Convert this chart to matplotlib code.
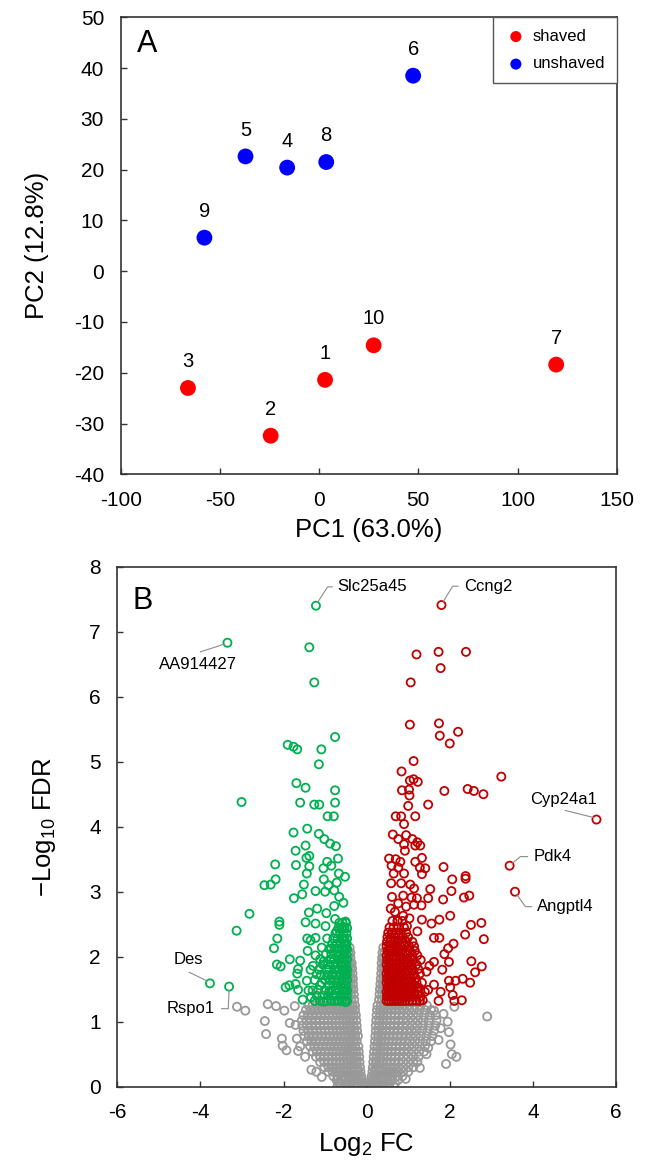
import matplotlib
matplotlib.use("Agg")
import matplotlib.pyplot as plt

plt.rcParams['font.family'] = ['Liberation Sans', 'DejaVu Sans']
plt.rcParams['axes.unicode_minus'] = False

# ---------------- Panel A data (PCA) ----------------
sample_ids = ['1', '2', '3', '4', '5', '6', '7', '8', '9', '10']
pc1 = [3.0, -24.4, -66.1, -16.1, -37.1, 47.4, 119.5, 3.6, -57.8, 27.5]
pc2 = [-21.4, -32.4, -23.0, 20.4, 22.6, 38.5, -18.4, 21.5, 6.6, -14.6]
groups = ['shaved', 'shaved', 'shaved', 'unshaved', 'unshaved', 'unshaved',
          'shaved', 'unshaved', 'unshaved', 'shaved']
group_order = ['shaved', 'unshaved']

# ---------------- Panel B data (volcano) ----------------
# significant down-regulated genes (log2FC, -log10 FDR)
green_pts = [(-1.22, 7.40), (-3.35, 6.83), (-1.38, 6.76), (-1.26, 6.22), (-0.76, 5.38),
             (-1.90, 5.26), (-1.76, 5.23), (-1.67, 5.19), (-1.09, 5.19), (-1.15, 4.96),
             (-1.69, 4.67), (-1.47, 4.60), (-0.76, 4.56), (-3.01, 4.38), (-1.60, 4.37),
             (-1.26, 4.34), (-1.14, 4.34), (-0.76, 4.37), (-0.94, 4.16), (-0.79, 4.16),
             (-1.43, 3.97), (-1.76, 3.91), (-1.15, 3.89), (-1.02, 3.81), (-0.88, 3.74),
             (-0.74, 3.70), (-1.47, 3.71), (-1.71, 3.63), (-1.38, 3.55), (-1.45, 3.52),
             (-0.69, 3.51), (-2.20, 3.42), (-1.70, 3.41), (-1.38, 3.39), (-0.95, 3.46),
             (-0.85, 3.40), (-1.04, 3.36), (-1.44, 3.28), (-0.67, 3.28), (-0.52, 3.23),
             (-2.19, 3.19), (-2.46, 3.10), (-2.31, 3.11), (-1.51, 3.11), (-1.03, 3.19),
             (-0.92, 3.10), (-0.72, 3.14), (-1.23, 3.01), (-1.00, 3.00), (-0.78, 3.02),
             (-1.55, 2.96), (-1.75, 2.90), (-0.66, 2.92), (-0.56, 2.83), (-0.78, 2.78),
             (-1.19, 2.74), (-1.39, 2.68), (-0.97, 2.67), (-2.82, 2.66), (-0.76, 2.58),
             (-2.10, 2.54), (-2.10, 2.49), (-1.47, 2.53), (-1.23, 2.51), (-0.99, 2.47),
             (-0.51, 2.54), (-0.57, 2.46), (-3.13, 2.40), (-0.72, 2.39), (-1.43, 2.28),
             (-2.15, 2.28), (-0.95, 2.28), (-1.23, 2.29), (-1.35, 2.25), (-0.57, 2.27),
             (-1.42, 2.09), (-2.23, 2.13), (-1.08, 2.14), (-0.85, 2.13), (-0.51, 2.17),
             (-1.85, 1.96), (-1.60, 1.94), (-1.23, 2.02), (-1.03, 1.93), (-0.69, 2.01),
             (-2.16, 1.88), (-2.07, 1.85), (-1.65, 1.81), (-1.29, 1.86), (-0.97, 1.80),
             (-0.58, 1.86), (-1.67, 1.74), (-1.20, 1.73), (-0.81, 1.73), (-0.49, 1.74),
             (-3.77, 1.59), (-3.31, 1.54), (-1.95, 1.53), (-1.86, 1.56), (-1.71, 1.58),
             (-1.44, 1.63), (-1.08, 1.60), (-0.72, 1.60), (-1.65, 1.49), (-1.40, 1.48),
             (-1.17, 1.49), (-0.90, 1.46), (-0.54, 1.52), (-1.54, 1.34), (-1.34, 1.38),
             (-1.03, 1.31), (-0.70, 1.33), (-0.51, 1.30)]

green_dense_levels = [1.32, 1.40, 1.48, 1.56, 1.64, 1.72, 1.80, 1.88, 1.96, 2.04,
                      2.12, 2.20, 2.28, 2.36, 2.44, 2.52]
green_dense_x = [
    [-0.47, -0.53, -0.60, -0.68, -0.77, -0.86, -0.96, -1.12, -1.25],
    [-0.48, -0.55, -0.63, -0.72, -0.81, -0.93, -1.06, -1.20],
    [-0.47, -0.52, -0.58, -0.66, -0.75, -0.85, -1.00, -1.30],
    [-0.49, -0.56, -0.62, -0.70, -0.80, -0.92, -1.12],
    [-0.47, -0.53, -0.60, -0.67, -0.77, -0.88, -1.00, -1.25],
    [-0.48, -0.55, -0.63, -0.72, -0.84, -0.95, -1.10],
    [-0.47, -0.52, -0.58, -0.66, -0.75, -0.90, -1.15, -1.35],
    [-0.49, -0.55, -0.62, -0.70, -0.80, -0.93, -1.05],
    [-0.47, -0.53, -0.60, -0.68, -0.78, -0.88, -1.12],
    [-0.48, -0.55, -0.63, -0.73, -0.85, -0.98],
    [-0.47, -0.52, -0.59, -0.67, -0.77, -0.90],
    [-0.48, -0.55, -0.62, -0.72, -0.83],
    [-0.47, -0.53, -0.60, -0.70, -0.80],
    [-0.49, -0.56, -0.64, -0.75],
    [-0.47, -0.53, -0.60, -0.68],
    [-0.50, -0.58, -0.66]]

# significant up-regulated genes
red_pts = [(1.80, 7.41), (1.20, 6.65), (1.73, 6.69), (2.39, 6.69), (1.78, 6.44),
           (1.06, 6.22), (1.04, 5.57), (1.74, 5.59), (1.76, 5.40), (2.20, 5.46),
           (2.00, 5.28), (1.13, 5.01), (3.24, 4.77), (0.84, 4.85), (1.04, 4.71),
           (1.13, 4.73), (1.23, 4.69), (0.85, 4.56), (1.02, 4.57), (1.87, 4.55),
           (2.43, 4.58), (2.58, 4.55), (2.81, 4.50), (1.03, 4.48), (1.48, 4.34),
           (1.00, 4.32), (0.70, 4.16), (0.83, 4.16), (1.17, 4.16), (0.90, 4.04),
           (5.53, 4.11), (3.44, 3.40), (3.57, 3.00),
           (0.63, 3.88), (0.76, 3.81), (0.95, 3.87), (1.10, 3.81), (1.22, 3.76),
           (1.29, 3.71), (0.90, 3.73), (0.92, 3.63), (1.17, 3.71), (0.54, 3.51),
           (0.70, 3.50), (0.81, 3.46), (1.33, 3.52), (0.60, 3.40), (0.76, 3.37),
           (1.17, 3.46), (1.28, 3.37), (1.41, 3.36), (1.85, 3.38), (0.65, 3.28),
           (0.90, 3.28), (1.33, 3.27), (2.38, 3.24), (2.38, 3.20), (2.06, 3.19),
           (0.59, 3.13), (0.83, 3.13), (1.05, 3.11), (1.53, 3.04), (1.14, 3.05),
           (2.04, 3.01), (0.61, 2.92), (0.88, 2.94), (1.08, 2.91), (1.21, 2.90),
           (1.48, 2.90), (2.34, 2.91), (2.47, 2.94), (1.84, 2.88), (0.58, 2.74),
           (0.76, 2.82), (0.95, 2.77), (1.14, 2.80), (1.32, 2.79), (0.68, 2.69),
           (0.88, 2.63), (1.03, 2.59), (2.01, 2.63), (1.75, 2.57), (1.33, 2.57),
           (1.56, 2.51), (0.75, 2.55), (2.51, 2.49), (2.76, 2.52), (0.97, 2.47),
           (1.22, 2.39), (2.37, 2.34), (2.82, 2.27), (1.62, 2.29), (1.75, 2.29),
           (2.09, 2.20), (1.96, 2.13), (1.87, 2.04), (1.98, 1.92), (2.52, 1.93),
           (2.77, 1.85), (2.61, 1.76), (1.82, 1.80), (1.62, 1.92), (1.51, 1.86),
           (1.44, 1.77), (1.98, 1.63), (2.14, 1.63), (2.31, 1.66), (2.49, 1.60),
           (2.01, 1.53), (1.62, 1.57), (1.78, 1.46), (2.07, 1.41), (2.11, 1.32),
           (2.29, 1.33), (1.73, 1.32), (1.35, 1.33), (1.48, 1.49), (1.26, 1.52)]

red_dense_levels = [1.32, 1.39, 1.46, 1.53, 1.60, 1.67, 1.74, 1.81, 1.88, 1.95,
                    2.02, 2.09, 2.16, 2.23, 2.30, 2.37, 2.45, 2.55]
red_dense_x = [
    [0.48, 0.53, 0.59, 0.65, 0.72, 0.79, 0.86, 0.94, 1.02, 1.10, 1.20, 1.28],
    [0.49, 0.55, 0.61, 0.68, 0.75, 0.82, 0.90, 0.98, 1.07, 1.17, 1.30],
    [0.48, 0.53, 0.59, 0.66, 0.73, 0.80, 0.88, 0.96, 1.05, 1.15, 1.25, 1.40],
    [0.50, 0.56, 0.62, 0.69, 0.77, 0.85, 0.93, 1.02, 1.12, 1.22],
    [0.48, 0.54, 0.60, 0.67, 0.74, 0.82, 0.90, 0.99, 1.09, 1.20, 1.33],
    [0.49, 0.56, 0.63, 0.71, 0.79, 0.87, 0.96, 1.06, 1.18],
    [0.48, 0.54, 0.60, 0.68, 0.76, 0.84, 0.93, 1.03, 1.14, 1.28],
    [0.50, 0.57, 0.64, 0.72, 0.80, 0.89, 0.99, 1.10, 1.24],
    [0.48, 0.55, 0.62, 0.70, 0.78, 0.87, 0.97, 1.08, 1.20],
    [0.49, 0.56, 0.63, 0.71, 0.80, 0.90, 1.00, 1.12, 1.30],
    [0.48, 0.55, 0.62, 0.70, 0.79, 0.88, 0.98, 1.10, 1.22],
    [0.50, 0.57, 0.65, 0.74, 0.83, 0.93, 1.04, 1.16],
    [0.48, 0.55, 0.63, 0.72, 0.81, 0.91, 1.02, 1.14],
    [0.49, 0.57, 0.66, 0.75, 0.85, 0.96, 1.10],
    [0.50, 0.58, 0.67, 0.77, 0.88, 1.00],
    [0.52, 0.61, 0.71, 0.82, 0.95],
    [0.55, 0.65, 0.76, 0.90],
    [0.62, 0.74, 0.86]]

# non-significant genes: dense cloud rows (-log10 FDR level, log2FC values)
gray_levels = [0.01, 0.05, 0.10, 0.16, 0.23, 0.30, 0.38, 0.46, 0.54, 0.62, 0.70,
               0.78, 0.86, 0.94, 1.02, 1.10, 1.18, 1.25,
               1.34, 1.42, 1.50, 1.58, 1.66, 1.74, 1.82, 1.90, 1.98, 2.06, 2.14]
gray_x = [
    [-0.70, -0.55, -0.42, -0.30, -0.20, -0.10, -0.03, 0.00, 0.04, 0.10, 0.18, 0.28, 0.40, 0.52, 0.65],
    [-0.62, -0.50, -0.38, -0.28, -0.19, -0.12, -0.06, 0.06, 0.12, 0.20, 0.30, 0.42, 0.55, 0.68],
    [-0.72, -0.60, -0.50, -0.41, -0.33, -0.25, -0.18, -0.11, 0.10, 0.17, 0.24, 0.32, 0.41, 0.50, 0.61, 0.75],
    [-0.80, -0.70, -0.60, -0.51, -0.43, -0.35, -0.27, -0.20, -0.13, 0.12, 0.19, 0.26, 0.34, 0.43, 0.52, 0.62, 0.73, 0.86],
    [-0.92, -0.82, -0.72, -0.63, -0.54, -0.46, -0.38, -0.30, -0.22, -0.15, 0.14, 0.21, 0.29, 0.37, 0.46, 0.55, 0.65, 0.76, 0.88, 1.00],
    [-1.02, -0.92, -0.82, -0.73, -0.64, -0.55, -0.47, -0.39, -0.31, -0.23, -0.16, 0.15, 0.22, 0.30, 0.38, 0.47, 0.56, 0.66, 0.77, 0.88, 1.00, 1.12],
    [-1.12, -1.02, -0.92, -0.82, -0.73, -0.64, -0.55, -0.47, -0.39, -0.31, -0.24, -0.17, 0.16, 0.23, 0.31, 0.39, 0.48, 0.57, 0.67, 0.77, 0.88, 1.00, 1.12, 1.22],
    [-1.22, -1.12, -1.02, -0.92, -0.83, -0.74, -0.65, -0.56, -0.48, -0.40, -0.32, -0.25, -0.18, 0.17, 0.24, 0.32, 0.40, 0.49, 0.58, 0.68, 0.78, 0.89, 1.00, 1.12, 1.25],
    [-1.30, -1.20, -1.10, -1.00, -0.91, -0.82, -0.73, -0.64, -0.56, -0.48, -0.40, -0.33, -0.26, -0.19, 0.18, 0.25, 0.33, 0.41, 0.50, 0.59, 0.69, 0.79, 0.90, 1.01, 1.13, 1.26, 1.38],
    [-1.36, -1.26, -1.16, -1.06, -0.96, -0.87, -0.78, -0.69, -0.60, -0.52, -0.44, -0.36, -0.28, -0.20, 0.19, 0.26, 0.34, 0.42, 0.51, 0.60, 0.70, 0.80, 0.91, 1.02, 1.14, 1.27, 1.40],
    [-1.44, -1.33, -1.22, -1.12, -1.02, -0.92, -0.83, -0.74, -0.65, -0.56, -0.48, -0.40, -0.32, -0.24, 0.20, 0.27, 0.35, 0.44, 0.53, 0.62, 0.72, 0.82, 0.93, 1.04, 1.16, 1.28, 1.42, 1.55],
    [-1.50, -1.39, -1.28, -1.18, -1.08, -0.98, -0.88, -0.79, -0.70, -0.61, -0.52, -0.44, -0.36, -0.28, -0.21, 0.21, 0.28, 0.36, 0.45, 0.54, 0.64, 0.74, 0.84, 0.95, 1.06, 1.18, 1.30, 1.44, 1.58],
    [-1.52, -1.41, -1.30, -1.20, -1.10, -1.00, -0.90, -0.81, -0.72, -0.63, -0.54, -0.46, -0.38, -0.30, -0.23, 0.22, 0.29, 0.37, 0.46, 0.55, 0.65, 0.75, 0.86, 0.97, 1.08, 1.20, 1.33, 1.47, 1.62],
    [-1.55, -1.44, -1.33, -1.22, -1.12, -1.02, -0.92, -0.83, -0.74, -0.65, -0.56, -0.48, -0.40, -0.32, -0.24, 0.22, 0.30, 0.38, 0.47, 0.56, 0.66, 0.76, 0.87, 0.98, 1.10, 1.22, 1.35, 1.50, 1.65],
    [-1.56, -1.45, -1.34, -1.23, -1.13, -1.03, -0.93, -0.84, -0.75, -0.66, -0.57, -0.49, -0.41, -0.33, -0.25, 0.23, 0.31, 0.39, 0.48, 0.57, 0.67, 0.77, 0.88, 0.99, 1.11, 1.23, 1.36, 1.50, 1.68],
    [-1.52, -1.41, -1.30, -1.20, -1.10, -1.00, -0.90, -0.81, -0.72, -0.63, -0.55, -0.47, -0.39, -0.32, -0.26, 0.24, 0.32, 0.40, 0.49, 0.58, 0.68, 0.78, 0.89, 1.00, 1.12, 1.24, 1.38, 1.52, 1.66],
    [-1.46, -1.35, -1.25, -1.15, -1.05, -0.95, -0.86, -0.77, -0.68, -0.60, -0.52, -0.44, -0.36, -0.28, 0.25, 0.33, 0.41, 0.50, 0.59, 0.69, 0.79, 0.90, 1.02, 1.14, 1.27, 1.40, 1.55],
    [-1.40, -1.30, -1.20, -1.10, -1.00, -0.91, -0.82, -0.73, -0.65, -0.57, -0.49, -0.41, -0.34, -0.28, 0.26, 0.34, 0.42, 0.51, 0.60, 0.70, 0.80, 0.91, 1.03, 1.16, 1.30, 1.45],
    [-0.44, -0.37, -0.30, 0.30, 0.37, 0.44],
    [-0.45, -0.38, -0.31, 0.31, 0.38, 0.45],
    [-0.44, -0.37, -0.32, 0.32, 0.38, 0.44],
    [-0.45, -0.39, -0.33, 0.33, 0.39, 0.45],
    [-0.44, -0.38, -0.33, 0.34, 0.40, 0.45],
    [-0.45, -0.40, -0.34, 0.35, 0.41, 0.46],
    [-0.44, -0.39, -0.35, 0.36, 0.41, 0.45],
    [-0.45, -0.40, -0.36, 0.36, 0.42, 0.46],
    [-0.44, -0.39, 0.37, 0.42],
    [-0.43, -0.39, 0.38, 0.43],
    [-0.41, 0.40]]

# non-significant outliers
gray_pts = [(-3.12, 1.23), (-2.92, 1.17), (-2.38, 1.27), (-2.45, 1.01), (-2.42, 0.81),
            (-2.18, 1.24), (-1.98, 1.17), (-2.04, 0.74), (-2.02, 0.63), (-1.93, 0.56),
            (-1.73, 1.24), (-1.68, 0.74), (-1.65, 0.55), (-1.71, 0.95), (-1.48, 0.46),
            (-1.33, 0.26), (-1.21, 0.23), (-1.08, 0.15), (-0.67, 0.06), (-0.47, 0.05),
            (-0.24, 0.02), (-1.85, 0.98), (-1.60, 0.62),
            (2.90, 1.08), (2.11, 1.23), (1.95, 1.00), (1.98, 0.84), (2.02, 0.65),
            (2.05, 0.50), (1.91, 0.35), (1.62, 1.17), (1.73, 0.72), (1.48, 0.60),
            (1.44, 0.50), (1.28, 0.29), (0.94, 0.12), (0.54, 0.05), (0.36, 0.03),
            (2.16, 0.46), (1.85, 1.12), (1.78, 0.90)]

# labelled genes: name, text position, alignment, leader line (x list, y list)
gene_names = ['Slc25a45', 'Ccng2', 'AA914427', 'Cyp24a1', 'Pdk4', 'Angptl4', 'Des', 'Rspo1']
gene_text_xy = [(-0.70, 7.69), (2.34, 7.69), (-4.05, 6.49), (4.75, 4.42),
                (4.02, 3.54), (4.11, 2.77), (-4.30, 1.96), (-3.66, 1.20)]
gene_text_ha = ['left', 'left', 'center', 'center', 'left', 'left', 'center', 'right']
gene_leader_x = [[-1.17, -0.94, -0.83], [1.84, 2.07, 2.20], [-3.42, -4.00], [5.47, 4.78],
                 [3.51, 3.70, 3.87], [3.62, 3.82, 3.97], [-3.85, -4.27], [-3.31, -3.33, -3.49]]
gene_leader_y = [[7.46, 7.69, 7.69], [7.46, 7.70, 7.70], [6.81, 6.69], [4.14, 4.25],
                 [3.44, 3.54, 3.54], [2.95, 2.77, 2.77], [1.63, 1.76], [1.48, 1.20, 1.20]]

# ---------------- Figure ----------------
W, H = 646, 1161
fig = plt.figure(figsize=(W / 100, H / 100), dpi=100)

spine_col = '#333333'


def style_axes(ax):
    for s in ax.spines.values():
        s.set_color(spine_col)
        s.set_linewidth(1.2)
    ax.tick_params(direction='in', length=4.5, width=1.0, color=spine_col,
                   labelsize=15, pad=12, top=False, right=False)


# Panel A
axA = fig.add_axes([120.7 / W, 1 - 474.3 / H, 496 / W, 457 / H])
style_axes(axA)
group_colors = {'shaved': '#FF0000', 'unshaved': '#0000FF'}
for g in group_order:
    xs = [x for x, gg in zip(pc1, groups) if gg == g]
    ys = [y for y, gg in zip(pc2, groups) if gg == g]
    axA.scatter(xs, ys, s=130, color=group_colors[g], edgecolors='none', label=g, zorder=3)
for lab, x, y in zip(sample_ids, pc1, pc2):
    axA.annotate(lab, (x, y), xytext=(0, 19), textcoords='offset points',
                 ha='center', va='center', fontsize=14.5)
axA.set_xlim(-100, 150)
axA.set_ylim(-40, 50)
axA.set_xticks(range(-100, 151, 50))
axA.set_yticks(range(-40, 51, 10))
axA.set_xlabel('PC1 (63.0%)', fontsize=18.5, labelpad=6)
axA.set_ylabel('PC2 (12.8%)', fontsize=18.5, labelpad=18)
axA.text(0.033, 0.941, 'A', transform=axA.transAxes, fontsize=22, ha='left', va='center')
leg = axA.legend(loc='upper right', borderaxespad=0, fancybox=False, fontsize=12,
                 edgecolor='#555555', framealpha=1, handletextpad=0.3, borderpad=0.7,
                 labelspacing=0.75, markerscale=0.7, handlelength=1.4, scatterpoints=1)
leg.get_frame().set_linewidth(1.0)

# Panel B
axB = fig.add_axes([117.3 / W, 1 - 1086.7 / H, 498.7 / W, 520 / H])
style_axes(axB)
gray_col = '#999999'
green_col = '#00B050'
red_col = '#C00000'
mk = dict(s=34, facecolors='none', linewidths=1.3)

gx, gy = [], []
for lvl, row in zip(gray_levels, gray_x):
    gx += row
    gy += [lvl] * len(row)
gx += [p[0] for p in gray_pts]
gy += [p[1] for p in gray_pts]
axB.scatter(gx, gy, edgecolors=gray_col, zorder=2, **mk)

grx = [p[0] for p in green_pts]
gry = [p[1] for p in green_pts]
for lvl, row in zip(green_dense_levels, green_dense_x):
    grx += row
    gry += [lvl] * len(row)
axB.scatter(grx, gry, edgecolors=green_col, zorder=3, **mk)

rx = [p[0] for p in red_pts]
ry = [p[1] for p in red_pts]
for lvl, row in zip(red_dense_levels, red_dense_x):
    rx += row
    ry += [lvl] * len(row)
axB.scatter(rx, ry, edgecolors=red_col, zorder=3, **mk)

for name, (tx, ty), ha, lx, ly in zip(gene_names, gene_text_xy, gene_text_ha,
                                      gene_leader_x, gene_leader_y):
    axB.plot(lx, ly, color='#8C8C8C', lw=0.8, zorder=4)
    axB.text(tx, ty, name, ha=ha, va='center', fontsize=12, zorder=5)

axB.set_xlim(-6, 6)
axB.set_ylim(0, 8)
axB.set_xticks(range(-6, 7, 2))
axB.set_yticks(range(0, 9))
axB.set_xlabel('Log$\\mathregular{_2}$ FC', fontsize=18.5, labelpad=6)
axB.set_ylabel('\u2212Log$\\mathregular{_{10}}$ FDR', fontsize=18.5, labelpad=22)
axB.text(-5.38, 7.47, 'B', fontsize=22, ha='center', va='center')

fig.savefig('out.png', dpi=100)
